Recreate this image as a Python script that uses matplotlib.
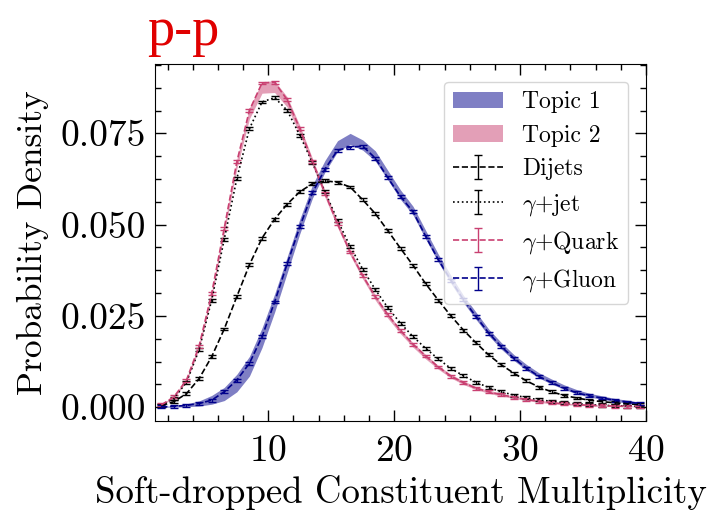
import numpy as np
import matplotlib
matplotlib.use("Agg")
import matplotlib.pyplot as plt
from matplotlib.patches import Patch
from matplotlib.ticker import MultipleLocator

plt.rcParams["font.family"] = "serif"
plt.rcParams["font.serif"] = ["cmr10"]
plt.rcParams["mathtext.fontset"] = "cm"
plt.rcParams["axes.formatter.use_mathtext"] = True
plt.rcParams["axes.unicode_minus"] = False

# bin centres of the multiplicity histogram
x = np.arange(1.5, 40, 1.0)

dijets = [0.0004, 0.0015, 0.0037, 0.0078, 0.0138, 0.0214, 0.0303, 0.0390, 0.0463, 0.0515,
          0.0556, 0.0590, 0.0612, 0.0620, 0.0616, 0.0603, 0.0568, 0.0530, 0.0483, 0.0435,
          0.0388, 0.0338, 0.0293, 0.0250, 0.0211, 0.0176, 0.0143, 0.0116, 0.0093, 0.0072,
          0.0055, 0.0042, 0.0032, 0.0025, 0.0019, 0.0015, 0.0012, 0.0009, 0.0007]
gamma_jet = [0.0005, 0.0024, 0.0068, 0.0157, 0.0293, 0.0460, 0.0626, 0.0763, 0.0836, 0.0848,
             0.0813, 0.0745, 0.0670, 0.0590, 0.0512, 0.0440, 0.0378, 0.0322, 0.0272, 0.0230,
             0.0193, 0.0161, 0.0132, 0.0106, 0.0086, 0.0068, 0.0054, 0.0042, 0.0033, 0.0026,
             0.0020, 0.0016, 0.0012, 0.0009, 0.0007, 0.0005, 0.0004, 0.0003, 0.0002]
gamma_quark = [0.0006, 0.0028, 0.0074, 0.0167, 0.0311, 0.0490, 0.0672, 0.0813, 0.0888, 0.0890,
               0.0842, 0.0763, 0.0674, 0.0586, 0.0502, 0.0425, 0.0360, 0.0303, 0.0253, 0.0210,
               0.0172, 0.0140, 0.0110, 0.0085, 0.0067, 0.0052, 0.0042, 0.0034, 0.0027, 0.0021,
               0.0016, 0.0012, 0.0009, 0.0007, 0.0005, 0.0004, 0.0003, 0.0002, 0.0002]
gamma_gluon = [0.0001, 0.0002, 0.0005, 0.0010, 0.0019, 0.0042, 0.0074, 0.0120, 0.0193, 0.0288,
               0.0393, 0.0494, 0.0587, 0.0652, 0.0704, 0.0712, 0.0715, 0.0682, 0.0628, 0.0577,
               0.0535, 0.0468, 0.0404, 0.0348, 0.0294, 0.0248, 0.0203, 0.0166, 0.0134, 0.0107,
               0.0084, 0.0067, 0.0052, 0.0039, 0.0031, 0.0025, 0.0019, 0.0014, 0.0010]
stat_err = 0.0004

topic1 = [0.0001, 0.0002, 0.0005, 0.0010, 0.0020, 0.0036, 0.0066, 0.0112, 0.0190, 0.0285,
          0.0390, 0.0495, 0.0590, 0.0660, 0.0715, 0.0735, 0.0718, 0.0688, 0.0635, 0.0582,
          0.0538, 0.0472, 0.0408, 0.0350, 0.0296, 0.0250, 0.0205, 0.0168, 0.0136, 0.0109,
          0.0087, 0.0070, 0.0055, 0.0042, 0.0033, 0.0026, 0.0020, 0.0015, 0.0011]
topic1_err = [0.0001, 0.0002, 0.0004, 0.0007, 0.0012, 0.0018, 0.0024, 0.0027, 0.0027, 0.0025,
              0.0022, 0.0020, 0.0018, 0.0016, 0.0015, 0.0015, 0.0014, 0.0014, 0.0013, 0.0013,
              0.0012, 0.0012, 0.0011, 0.0011, 0.0010, 0.0010, 0.0009, 0.0009, 0.0008, 0.0008,
              0.0007, 0.0007, 0.0006, 0.0006, 0.0005, 0.0005, 0.0004, 0.0004, 0.0003]
topic2 = [0.0006, 0.0028, 0.0074, 0.0166, 0.0308, 0.0486, 0.0666, 0.0805, 0.0876, 0.0878,
          0.0836, 0.0760, 0.0672, 0.0584, 0.0500, 0.0424, 0.0358, 0.0300, 0.0250, 0.0207,
          0.0170, 0.0138, 0.0109, 0.0085, 0.0067, 0.0052, 0.0042, 0.0034, 0.0027, 0.0021,
          0.0016, 0.0012, 0.0009, 0.0007, 0.0005, 0.0004, 0.0003, 0.0002, 0.0002]
topic2_err = [0.0002, 0.0003, 0.0005, 0.0007, 0.0009, 0.0011, 0.0013, 0.0015, 0.0016, 0.0016,
              0.0014, 0.0012, 0.0010, 0.0009, 0.0008, 0.0008, 0.0007, 0.0007, 0.0007, 0.0006,
              0.0006, 0.0006, 0.0005, 0.0005, 0.0005, 0.0004, 0.0004, 0.0004, 0.0003, 0.0003,
              0.0003, 0.0003, 0.0002, 0.0002, 0.0002, 0.0002, 0.0001, 0.0001, 0.0001]

blue = "#00008B"
pink = "#C94071"

fig = plt.figure(figsize=(7.09, 5.15), dpi=100)
ax = fig.add_axes([0.2186, 0.1825, 0.6926, 0.6932])

t1 = np.array(topic1)
t1e = np.array(topic1_err)
t2 = np.array(topic2)
t2e = np.array(topic2_err)
ax.fill_between(x, t1 - t1e, t1 + t1e, color=blue, alpha=0.5, lw=0)
ax.fill_between(x, t2 - t2e, t2 + t2e, color=pink, alpha=0.5, lw=0)

eb_kw = dict(capsize=3, elinewidth=1.0, capthick=1.0, lw=1.2)
h_dij = ax.errorbar(x, dijets, yerr=stat_err, color="black", ls="--", **eb_kw)
h_gj = ax.errorbar(x, gamma_jet, yerr=stat_err, color="black", ls=":", **eb_kw)
h_q = ax.errorbar(x, gamma_quark, yerr=stat_err, color=pink, ls="--", **eb_kw)
h_g = ax.errorbar(x, gamma_gluon, yerr=stat_err, color=blue, ls="--", **eb_kw)

handles = [Patch(color=blue, alpha=0.5, lw=0), Patch(color=pink, alpha=0.5, lw=0),
           h_dij, h_gj, h_q, h_g]
labels = ["Topic 1", "Topic 2", "Dijets", r"$\gamma$+jet", r"$\gamma$+Quark", r"$\gamma$+Gluon"]
ax.legend(handles, labels, loc="upper right", fontsize=17, handlelength=2.1,
          borderaxespad=0.75, labelspacing=0.48)

ax.set_xlim(1, 40)
ax.set_ylim(-0.0038, 0.094)
ax.xaxis.set_major_locator(MultipleLocator(10))
ax.xaxis.set_minor_locator(MultipleLocator(2))
ax.yaxis.set_major_locator(MultipleLocator(0.025))
ax.yaxis.set_minor_locator(MultipleLocator(0.00625))
ax.yaxis.set_major_formatter(plt.FormatStrFormatter("%.3f"))
ax.tick_params(which="both", direction="in", top=True, right=True, labelsize=27)
ax.tick_params(which="major", length=8, width=1)
ax.tick_params(axis="x", which="major", pad=10)
ax.tick_params(axis="y", which="major", pad=6.5)
ax.tick_params(which="minor", length=4, width=1)

ax.set_xlabel("Soft-dropped Constituent Multiplicity", fontsize=26.5, labelpad=5)
ax.set_ylabel("Probability Density", fontsize=25.5, labelpad=8)
ax.set_title("p-p", loc="left", color="#E00000", fontsize=39,
             fontfamily="Liberation Serif", x=-0.015, pad=14)

fig.savefig("out.png", dpi=100)
